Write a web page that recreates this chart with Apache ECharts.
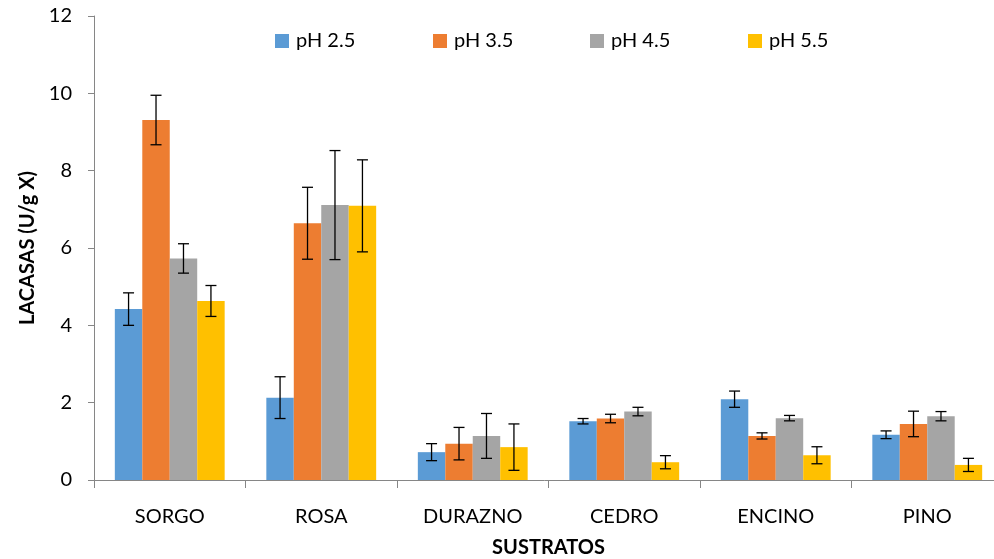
<!DOCTYPE html>
<html><head><meta charset="utf-8">
<script src="https://cdn.jsdelivr.net/npm/echarts@6/dist/echarts.min.js"></script>
<style>html,body{margin:0;padding:0;background:#fff}#c{width:994px;height:559px}</style>
</head><body><div id="c"></div>
<script>
const categories = ['SORGO','ROSA','DURAZNO','CEDRO','ENCINO','PINO'];
const seriesNames = ['pH 2.5','pH 3.5','pH 4.5','pH 5.5'];
const ph25 = [4.42, 2.13, 0.72, 1.52, 2.09, 1.17];
const ph35 = [9.31, 6.64, 0.94, 1.59, 1.14, 1.45];
const ph45 = [5.73, 7.11, 1.14, 1.77, 1.60, 1.65];
const ph55 = [4.63, 7.09, 0.85, 0.46, 0.64, 0.39];
const err25 = [0.42, 0.54, 0.22, 0.07, 0.21, 0.10];
const err35 = [0.64, 0.93, 0.42, 0.11, 0.08, 0.33];
const err45 = [0.38, 1.41, 0.58, 0.11, 0.07, 0.12];
const err55 = [0.40, 1.19, 0.60, 0.17, 0.22, 0.17];
const yTicks = [0, 2, 4, 6, 8, 10, 12];

const colors = ['#5B9BD5','#ED7D31','#A5A5A5','#FFC000'];
const values = [ph25, ph35, ph45, ph55];
const errs = [err25, err35, err45, err55];
const gapPct = 0.275;
const FONT = 'Lato';
const legendLeft = [275, 433, 590, 748];

const chart = echarts.init(document.getElementById('c'));
const series = [];
values.forEach((v, i) => {
  series.push({
    name: seriesNames[i], type: 'bar', data: v, barGap: '0%', barCategoryGap: (gapPct*100)+'%',
    itemStyle: { color: colors[i] }, z: 2
  });
});
values.forEach((v, i) => {
  series.push({
    type: 'custom', name: 'err' + i, z: 5, silent: true,
    data: v.map((val, j) => [j, val - errs[i][j], val + errs[i][j]]),
    renderItem: function (params, api) {
      const band = api.size([1, 0])[0];
      const bw = band * (1 - gapPct) / 4;
      const off = (i - 1.5) * bw;
      const lo = api.coord([api.value(0), api.value(1)]);
      const hi = api.coord([api.value(0), api.value(2)]);
      const x = lo[0] + off;
      const cap = 5.5;
      const st = { stroke: '#000', lineWidth: 1.3 };
      return { type: 'group', children: [
        { type: 'line', shape: { x1: x, y1: hi[1], x2: x, y2: lo[1] }, style: st },
        { type: 'line', shape: { x1: x - cap, y1: hi[1], x2: x + cap, y2: hi[1] }, style: st },
        { type: 'line', shape: { x1: x - cap, y1: lo[1], x2: x + cap, y2: lo[1] }, style: st }
      ]};
    }
  });
});

chart.setOption({
  animation: false,
  textStyle: { fontFamily: FONT },
  legend: seriesNames.map((n, i) => ({
    data: [n], top: 31, left: legendLeft[i], padding: 0, itemWidth: 14, itemHeight: 14, itemGap: 0,
    icon: 'rect', textStyle: { fontSize: 20, color: '#000', fontFamily: FONT, padding: [0, 0, 0, 2] }
  })),
  grid: { left: 94, right: -9, top: 16, bottom: 79, containLabel: false, outerBoundsMode: 'none' },
  xAxis: {
    type: 'category', data: categories,
    name: 'SUSTRATOS', nameLocation: 'middle', nameGap: 58,
    nameTextStyle: { fontSize: 20, fontWeight: 'bold', color: '#000', fontFamily: FONT },
    axisLine: { lineStyle: { color: '#868686', width: 1 } },
    axisTick: { show: true, length: 8, lineStyle: { color: '#868686' } },
    axisLabel: { fontSize: 20, color: '#000', margin: 27, fontFamily: FONT }
  },
  yAxis: {
    type: 'value', min: 0, max: 12, interval: 2,
    name: 'LACASAS (U/g X)', nameLocation: 'middle', nameGap: 52, nameRotate: 90,
    nameTextStyle: { fontSize: 20, fontWeight: 'bold', color: '#000', fontFamily: FONT },
    axisLine: { show: true, lineStyle: { color: '#868686', width: 1 } },
    axisTick: { show: true, length: 6, inside: false, lineStyle: { color: '#868686' } },
    splitLine: { show: false },
    axisLabel: { fontSize: 20, color: '#000', margin: 22, fontFamily: FONT,
      formatter: v => yTicks.includes(v) ? String(v) : '' }
  },
  series: series
});
</script></body></html>
